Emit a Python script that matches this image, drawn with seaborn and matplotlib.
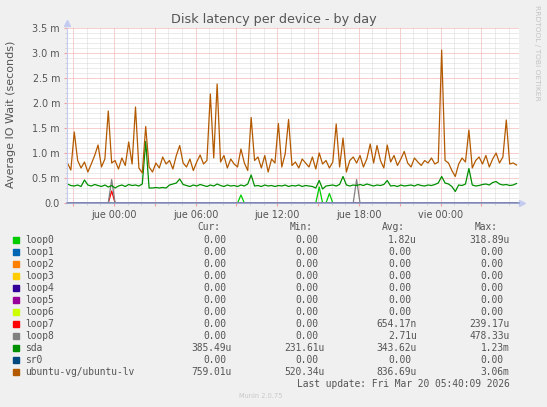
import numpy as np
import pandas as pd
import seaborn as sns
import matplotlib.pyplot as plt
import matplotlib.dates as mdates
from matplotlib.ticker import MultipleLocator, FuncFormatter
from matplotlib.patches import Rectangle

# ---- data (values in milliseconds, 15 min samples) ----
start = "2026-03-18 20:35"

ubuntu_lv = [
    0.80, 0.66, 1.42, 0.85, 0.70, 0.82, 0.62, 0.78, 0.95, 1.16,
    0.72, 0.88, 1.84, 0.80, 0.85, 0.68, 0.90, 0.75, 1.22, 0.78,
    1.92, 0.70, 0.60, 1.53, 0.72, 0.62, 0.80, 0.70, 0.92, 0.78,
    0.85, 0.68, 0.95, 1.15, 0.80, 0.72, 0.88, 0.65, 0.82, 0.96,
    0.78, 0.85, 2.18, 0.90, 2.38, 0.82, 0.95, 0.70, 0.88, 0.78,
    0.72, 1.08, 0.80, 0.65, 1.71, 0.85, 0.92, 0.70, 0.95, 0.62,
    0.88, 0.80, 1.59, 0.72, 0.98, 1.67, 0.75, 0.82, 0.70, 0.88,
    0.80, 0.72, 0.92, 0.68, 1.00, 0.78, 0.85, 0.70, 0.82, 1.58,
    0.72, 1.30, 0.62, 0.85, 0.92, 0.80, 0.95, 0.72, 0.88, 1.18,
    0.80, 1.15, 0.85, 0.70, 1.16, 0.82, 0.95, 0.75, 0.88, 1.03,
    0.80, 0.72, 0.90, 0.82, 0.75, 0.85, 0.80, 0.90, 0.78, 0.82,
    3.06, 0.85, 0.80, 0.65, 0.53, 0.78, 0.90, 0.82, 1.46, 0.70,
    0.85, 0.92, 0.78, 0.95, 0.72, 0.88, 1.00, 0.80, 0.92, 1.66,
    0.78, 0.80, 0.76,
]

sda = [
    0.38, 0.35, 0.34, 0.36, 0.33, 0.46, 0.36, 0.34, 0.37, 0.35,
    0.33, 0.36, 0.32, 0.35, 0.30, 0.34, 0.36, 0.33, 0.37, 0.35,
    0.36, 0.34, 0.38, 1.23, 0.30, 0.30, 0.31, 0.30, 0.31, 0.30,
    0.36, 0.38, 0.40, 0.48, 0.37, 0.35, 0.33, 0.36, 0.34, 0.37,
    0.35, 0.33, 0.36, 0.34, 0.38, 0.35, 0.33, 0.36, 0.34, 0.35,
    0.33, 0.36, 0.34, 0.38, 0.56, 0.34, 0.35, 0.33, 0.36, 0.34,
    0.35, 0.33, 0.35, 0.34, 0.36, 0.33, 0.35, 0.34, 0.36, 0.33,
    0.35, 0.34, 0.33, 0.30, 0.45, 0.28, 0.34, 0.35, 0.36, 0.34,
    0.37, 0.53, 0.36, 0.34, 0.36, 0.35, 0.37, 0.35, 0.38, 0.36,
    0.34, 0.36, 0.35, 0.37, 0.45, 0.34, 0.35, 0.33, 0.36, 0.34,
    0.35, 0.36, 0.34, 0.37, 0.35, 0.34, 0.36, 0.35, 0.37, 0.40,
    0.53, 0.40, 0.38, 0.33, 0.23, 0.36, 0.35, 0.38, 0.69, 0.36,
    0.34, 0.35, 0.37, 0.38, 0.36, 0.41, 0.43, 0.38, 0.36, 0.37,
    0.35, 0.36, 0.39,
]

# the loop devices are zero except for a few samples
loop0_at = [51, 74, 77]
loop0_val = [0.16, 0.32, 0.19]
loop7_at = [13]
loop7_val = [0.24]
loop8_at = [13, 85]
loop8_val = [0.47, 0.47]

devices = ["loop0", "loop1", "loop2", "loop3", "loop4", "loop5", "loop6",
           "loop7", "loop8", "sda", "sr0", "ubuntu-vg/ubuntu-lv"]
colors = ["#00cc00", "#0066b3", "#ff8000", "#ffcc00", "#330099", "#990099",
          "#ccff00", "#ff0000", "#808080", "#008f00", "#00487d", "#b35a00"]

cur = ["0.00"] * 9 + ["385.49u", "0.00", "759.01u"]
mins = ["0.00"] * 9 + ["231.61u", "0.00", "520.34u"]
avgs = ["1.82u", "0.00", "0.00", "0.00", "0.00", "0.00", "0.00",
        "654.17n", "2.71u", "343.62u", "0.00", "836.69u"]
maxs = ["318.89u", "0.00", "0.00", "0.00", "0.00", "0.00", "0.00",
        "239.17u", "478.33u", "1.23m", "0.00", "3.06m"]

# ---- build long frame ----
n = len(ubuntu_lv)
times = pd.date_range(start, periods=n, freq="15min")
series = {d: np.zeros(n) for d in devices}
for at, val, name in [(loop0_at, loop0_val, "loop0"), (loop7_at, loop7_val, "loop7"),
                      (loop8_at, loop8_val, "loop8")]:
    series[name][at] = val
series["sda"] = np.array(sda)
series["ubuntu-vg/ubuntu-lv"] = np.array(ubuntu_lv)
df = pd.concat([pd.DataFrame({"time": times, "value": series[d], "device": d}) for d in devices])

W, H = 547, 407
txt = "#555555"
fig = plt.figure(figsize=(W / 100, H / 100), dpi=100, facecolor="#f0f0f0")
ax = fig.add_axes([67 / W, 1 - 203 / H, 452 / W, 175 / H])
ax.set_facecolor("white")

sns.lineplot(data=df, x="time", y="value", hue="device", hue_order=devices,
             palette=dict(zip(devices, colors)), estimator=None, legend=False,
             linewidth=0.9, ax=ax)

ax.set_xlim(pd.Timestamp("2026-03-18 20:33"), pd.Timestamp("2026-03-20 05:46"))
ax.set_ylim(0, 3.5)
ax.set_xlabel("")
ax.set_ylabel("")

days_es = ["lun", "mar", "mié", "jue", "vie", "sáb", "dom"]


def fmt_time(x, pos):
    d = mdates.num2date(x)
    if d.hour % 6 == 0:
        return f"{days_es[d.weekday()]} {d.hour:02d}:00"
    return ""


ax.xaxis.set_major_locator(mdates.HourLocator(byhour=range(0, 24, 3)))
ax.xaxis.set_minor_locator(mdates.HourLocator())
ax.xaxis.set_major_formatter(FuncFormatter(fmt_time))
ax.yaxis.set_major_locator(MultipleLocator(0.5))
ax.yaxis.set_minor_locator(MultipleLocator(0.1))
ax.yaxis.set_major_formatter(FuncFormatter(lambda v, p: "0.0" if abs(v) < 1e-9 else f"{v:.1f} m"))

ax.set_axisbelow(True)
ax.grid(which="minor", color="#d8d8d8", lw=0.72, ls=(0, (1, 1)))
ax.grid(which="major", color="#f2a0a0", lw=0.72, ls=(0, (1, 1)))
ax.tick_params(which="major", length=2, color="#f2a0a0", labelsize=6.9, labelcolor=txt, pad=3)
ax.tick_params(which="minor", length=1.5, color="#cccccc")

for s in ["top", "right"]:
    ax.spines[s].set_visible(False)
ax.spines["left"].set_color("#c4cbf0")
ax.spines["bottom"].set_color("#8090c4")
ax.spines["bottom"].set_linewidth(1.1)
ax.plot(0, 1.03, transform=ax.transAxes, marker="^", ms=4, color="#c4cbf0", clip_on=False)
ax.plot(1.007, 0, transform=ax.transAxes, marker=">", ms=4, color="#c4cbf0", clip_on=False)

fig.text(274 / W, 1 - 19 / H, "Disk latency per device - by day", fontsize=9.2,
         color=txt, ha="center", va="center")
fig.text(11 / W, 1 - 114 / H, "Average IO Wait (seconds)", fontsize=8, color=txt,
         rotation=90, ha="center", va="center")
fig.text(537 / W, 1 - 53 / H, "RRDTOOL / TOBI OETIKER", fontsize=5.4, color="#c4c4c4",
         rotation=270, ha="center", va="center")

# ---- legend table ----
mono = "DejaVu Sans Mono"
fs = 6.9
cw = 0.602 * fs * 100 / 72
col_end = [231.7, 324.3, 416.7, 509.3]
headers = ["Cur:", "Min:", "Avg:", "Max:"]
for xe, h in zip(col_end, headers):
    fig.text((xe - 2 * cw) / W, 1 - 227.3 / H, h, family=mono, fontsize=fs,
             color=txt, ha="right", va="center")

for i, (d, c) in enumerate(zip(devices, colors)):
    y = 239.7 + 12 * i
    fig.patches.append(Rectangle((13.3 / W, 1 - (y + 3) / H), 6 / W, 6 / H,
                                 transform=fig.transFigure, color=c))
    fig.text(25.3 / W, 1 - y / H, d, family=mono, fontsize=fs, color=txt, va="center")
    for xe, col in zip(col_end, [cur, mins, avgs, maxs]):
        v = col[i]
        xr = xe if v[-1].isalpha() else xe - cw
        fig.text(xr / W, 1 - y / H, v, family=mono, fontsize=fs, color=txt,
                 ha="right", va="center")

fig.text(509.3 / W, 1 - 383.7 / H, "Last update: Fri Mar 20 05:40:09 2026", family=mono,
         fontsize=fs, color=txt, ha="right", va="center")
fig.text(261 / W, 1 - 396 / H, "Munin 2.0.75", fontsize=4.8, color="#c8c8c8",
         ha="center", va="center")

fig.savefig("out.png", dpi=100, facecolor=fig.get_facecolor())
